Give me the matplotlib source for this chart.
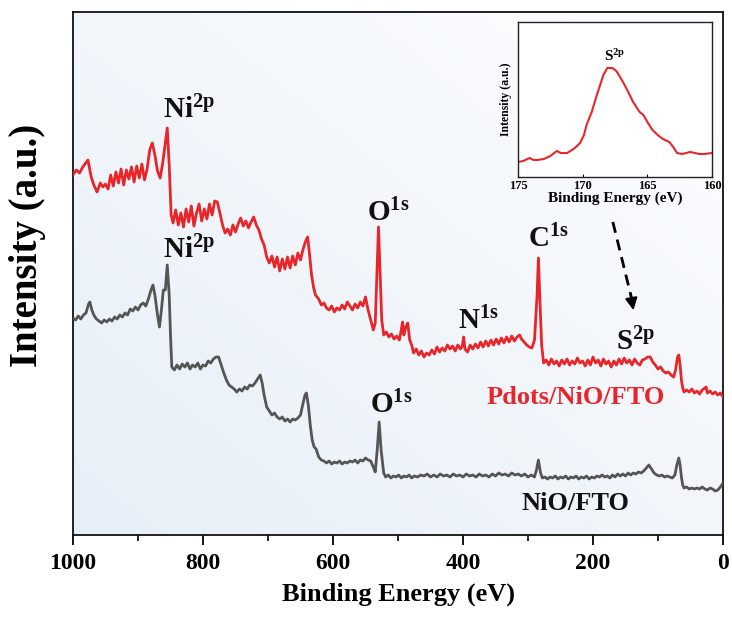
import numpy as np
import matplotlib
matplotlib.use("Agg")
import matplotlib.pyplot as plt
from matplotlib.ticker import MultipleLocator

plt.rcParams['font.family'] = ['Liberation Serif', 'DejaVu Serif']
plt.rcParams['font.weight'] = 'bold'
plt.rcParams['mathtext.fontset'] = 'custom'
plt.rcParams['mathtext.rm'] = 'Liberation Serif:bold'
plt.rcParams['mathtext.bf'] = 'Liberation Serif:bold'
plt.rcParams['mathtext.it'] = 'Liberation Serif:bold:italic'

# ---------------- data ----------------
red_energy = [1000, 995, 990, 985, 977, 972, 968, 963, 958, 954, 950, 946, 942, 938, 934, 930, 926, 922, 918, 914,
              910, 906, 902, 898, 894, 890, 886, 882, 878, 874, 870, 866, 862, 858, 855, 852, 849, 846, 842, 838,
              834, 830, 826, 822, 818, 814, 810, 806, 802, 798, 794, 790, 786, 782, 778, 774, 770, 766, 762, 758,
              754, 750, 746, 742, 738, 734, 730, 726, 722, 718, 714, 710, 706, 702, 698, 694, 690, 686, 682, 678,
              674, 670, 666, 662, 658, 654, 650, 646, 642, 639, 636, 633, 630, 627, 622, 618, 614, 610, 606, 602,
              598, 594, 590, 586, 582, 578, 574, 570, 566, 562, 558, 554, 550, 546, 542, 538, 535, 532, 530, 528,
              525, 522, 518, 514, 510, 506, 502, 498, 495, 493, 491, 488, 485, 482, 479, 476, 472, 468, 464, 460,
              456, 452, 448, 444, 440, 436, 432, 428, 424, 420, 416, 412, 408, 404, 401, 399, 397, 393, 389, 385,
              381, 377, 373, 369, 365, 361, 357, 353, 349, 345, 341, 337, 333, 329, 325, 321, 317, 313, 310, 306,
              302, 298, 294, 290, 286, 284, 282, 279, 276, 272, 268, 264, 260, 256, 252, 248, 244, 240, 236, 232,
              228, 224, 220, 216, 212, 208, 204, 200, 196, 192, 188, 184, 180, 176, 172, 168, 164, 160, 156, 152,
              148, 144, 140, 136, 132, 128, 124, 120, 116, 112, 108, 104, 100, 96, 92, 88, 84, 80, 76, 73,
              70, 68, 66, 64, 62, 60, 56, 52, 48, 44, 40, 36, 32, 28, 26, 24, 20, 16, 12, 8,
              4, 0]
red_intensity = [360, 365, 362, 368, 375, 358, 350, 343, 352, 348, 351, 346, 360, 349, 363, 352, 366, 350, 365, 356,
                 368, 353, 369, 357, 371, 355, 366, 385, 392, 380, 364, 357, 372, 392, 407, 370, 320, 312, 325, 310,
                 322, 308, 326, 313, 329, 309, 322, 331, 314, 326, 316, 331, 320, 334, 333, 322, 310, 302, 306, 300,
                 310, 303, 311, 317, 309, 314, 307, 313, 318, 310, 305, 296, 290, 278, 272, 279, 268, 278, 264, 276,
                 266, 278, 267, 279, 270, 282, 275, 286, 294, 298, 280, 260, 248, 240, 236, 230, 232, 227, 225, 229,
                 223, 227, 225, 230, 226, 233, 229, 225, 231, 227, 233, 229, 238, 225, 215, 205, 212, 270, 308, 270,
                 215, 200, 203, 198, 201, 196, 199, 195, 205, 213, 200, 208, 212, 195, 190, 182, 186, 180, 184, 178,
                 182, 180, 185, 181, 188, 183, 187, 184, 190, 186, 189, 184, 190, 186, 189, 198, 186, 183, 190, 186,
                 191, 187, 193, 188, 194, 189, 195, 190, 196, 191, 197, 192, 198, 193, 199, 194, 198, 200, 196, 193,
                 190, 188, 187, 195, 240, 277, 240, 190, 172, 175, 170, 176, 171, 174, 169, 175, 171, 176, 170, 174,
                 171, 177, 172, 174, 169, 175, 170, 178, 172, 175, 169, 176, 171, 174, 168, 174, 170, 176, 171, 177,
                 172, 175, 170, 176, 172, 170, 175, 176, 178, 178, 173, 170, 166, 168, 164, 162, 163, 160, 158, 165,
                 178, 180, 170, 155, 147, 143, 145, 143, 146, 142, 144, 141, 145, 147, 148, 142, 144, 141, 143, 140,
                 142, 138]

gray_energy = [1000, 996, 992, 988, 984, 980, 976, 974, 971, 968, 964, 960, 956, 952, 948, 944, 940, 936, 932, 928,
               924, 920, 916, 912, 908, 904, 900, 896, 892, 888, 884, 880, 877, 874, 870, 867, 864, 861, 858, 855,
               852, 850, 848, 844, 840, 836, 832, 828, 824, 820, 816, 812, 808, 804, 800, 796, 792, 788, 784, 780,
               776, 772, 768, 764, 760, 756, 752, 748, 744, 740, 736, 732, 728, 724, 720, 716, 712, 709, 706, 702,
               698, 694, 690, 686, 682, 678, 674, 670, 666, 662, 658, 654, 650, 646, 643, 641, 638, 635, 632, 629,
               626, 622, 618, 614, 610, 606, 602, 598, 594, 590, 586, 582, 578, 574, 570, 566, 562, 558, 554, 550,
               546, 542, 538, 535, 532, 529, 526, 522, 519, 515, 511, 507, 503, 499, 495, 491, 487, 483, 479, 475,
               470, 465, 460, 455, 450, 445, 440, 435, 430, 425, 420, 415, 410, 405, 400, 395, 390, 385, 380, 375,
               370, 365, 360, 355, 350, 345, 340, 335, 330, 325, 320, 315, 310, 305, 300, 295, 290, 287, 284, 281,
               278, 274, 270, 266, 262, 258, 254, 250, 246, 242, 238, 234, 230, 226, 222, 218, 214, 210, 206, 202,
               198, 194, 190, 186, 182, 178, 174, 170, 166, 162, 158, 154, 150, 146, 142, 138, 134, 130, 126, 122,
               118, 114, 110, 106, 102, 98, 94, 90, 86, 82, 78, 74, 71, 68, 66, 64, 62, 60, 56, 52,
               48, 44, 40, 36, 32, 28, 24, 20, 16, 12, 8, 4, 0]
gray_intensity = [217, 215, 219, 216, 220, 222, 231, 233, 225, 220, 216, 214, 212, 215, 213, 216, 214, 218, 216, 220,
                  218, 222, 220, 226, 224, 228, 225, 230, 232, 229, 236, 245, 250, 240, 220, 208, 225, 245, 245, 270,
                  240, 200, 168, 165, 170, 166, 171, 168, 172, 166, 170, 168, 172, 166, 170, 169, 174, 172, 176, 178,
                  178, 170, 162, 155, 150, 148, 146, 143, 146, 144, 148, 146, 150, 149, 152, 156, 160, 152, 140, 128,
                  124, 120, 122, 118, 116, 118, 114, 116, 113, 116, 115, 117, 120, 132, 140, 142, 130, 110, 95, 88,
                  86, 78, 75, 74, 72, 74, 71, 73, 72, 74, 71, 73, 72, 74, 73, 75, 72, 75, 74, 77,
                  75, 74, 68, 63, 85, 113, 85, 62, 58, 60, 57, 59, 58, 60, 57, 59, 58, 60, 57, 59,
                  58, 60, 59, 61, 58, 60, 58, 61, 59, 60, 58, 61, 59, 60, 58, 61, 59, 60, 58, 61,
                  59, 60, 58, 61, 59, 62, 60, 61, 59, 62, 60, 61, 59, 61, 58, 60, 58, 65, 75, 63,
                  57, 58, 56, 58, 57, 59, 56, 58, 57, 59, 56, 58, 57, 59, 56, 58, 57, 59, 56, 58,
                  57, 59, 58, 60, 58, 59, 57, 60, 58, 61, 59, 61, 59, 62, 60, 62, 61, 63, 62, 64,
                  67, 70, 66, 62, 60, 59, 60, 58, 59, 58, 57, 60, 70, 77, 70, 58, 50, 47, 48, 46,
                  47, 46, 47, 46, 48, 46, 45, 47, 46, 44, 45, 48, 52]

inset_energy = [175.0, 174.6, 174.1, 173.8, 173.5, 173.0, 172.5, 172.0, 171.7, 171.2, 170.7, 170.2, 169.9, 169.7,
                169.3, 169.0, 168.7, 168.4, 168.1, 167.7, 167.4, 167.2, 166.8, 166.4, 166.1, 165.6, 165.3, 165.0,
                164.6, 164.2, 163.8, 163.3, 163.0, 162.7, 162.3, 162.0, 161.7, 161.3, 161.0, 160.6, 160.0]
inset_intensity = [15, 16, 19, 17, 17, 18, 21, 26, 24, 24, 28, 34, 42, 52,
                   65, 78, 90, 102, 109, 109, 106, 102, 93, 83, 75, 65, 62, 55,
                   47, 42, 38, 35, 30, 24, 23, 24, 25, 24, 23, 23, 24]

main_xticks = [1000, 800, 600, 400, 200, 0]
inset_xticks = [175, 170, 165, 160]

peak_labels = [r'$\mathrm{Ni}^{\mathrm{2p}}$', r'$\mathrm{Ni}^{\mathrm{2p}}$', r'$\mathrm{O}^{\mathrm{1s}}$',
               r'$\mathrm{O}^{\mathrm{1s}}$', r'$\mathrm{N}^{\mathrm{1s}}$', r'$\mathrm{C}^{\mathrm{1s}}$',
               r'$\mathrm{S}^{\mathrm{2p}}$']
peak_label_x = [822, 822, 515, 510, 377, 268, 135]
peak_label_y = [425, 285, 322, 130, 214, 296, 193]

RED = '#e8262a'
GRAY = '#555555'

# ---------------- figure ----------------
fig = plt.figure(figsize=(7.32, 6.30), dpi=100)
ax = fig.add_axes([73/732, 1 - 535/630, 650/732, 523/630])

# soft blue background gradient
gx, gy = np.meshgrid(np.linspace(0, 1, 200), np.linspace(0, 1, 200))
t = np.clip(0.55 * gx + 0.55 * gy, 0, 1)
c0 = np.array([0.905, 0.937, 0.972])
c1 = np.array([0.985, 0.990, 0.997])
img = c0[None, None, :] * (1 - t[..., None]) + c1[None, None, :] * t[..., None]
ax.imshow(img, extent=[0, 1, 0, 1], transform=ax.transAxes, origin='lower',
          aspect='auto', zorder=0, interpolation='bilinear')

ax.plot(red_energy, red_intensity, color=RED, lw=2.0, zorder=3, solid_joinstyle='round')
ax.plot(gray_energy, gray_intensity, color=GRAY, lw=2.0, zorder=3, solid_joinstyle='round')

ax.set_xlim(1000, 0)
ax.set_ylim(0, 523)
ax.set_xticks(main_xticks)
ax.xaxis.set_minor_locator(MultipleLocator(100))
ax.set_yticks([])
ax.tick_params(axis='x', which='major', direction='out', length=7, width=1.3,
               labelsize=17, pad=6)
ax.tick_params(axis='x', which='minor', direction='out', length=4, width=1.2)
for lbl in ax.get_xticklabels():
    lbl.set_fontweight('bold')
for s in ax.spines.values():
    s.set_linewidth(1.3)
    s.set_color('#111111')

ax.set_xlabel('Binding Energy (eV)', fontsize=19, fontweight='bold', labelpad=6)
ax.set_ylabel('Intensity (a.u.)', fontsize=28, fontweight='bold')
ax.yaxis.set_label_coords(-0.041, 0.553)

for lab, x, y in zip(peak_labels, peak_label_x, peak_label_y):
    ax.text(x, y, lab, fontsize=21, ha='center', va='center', color='#111111', zorder=4)

ax.text(227, 137, 'Pdots/NiO/FTO', fontsize=19, fontweight='bold', color=RED,
        ha='center', va='center', zorder=4)
ax.text(227, 32, 'NiO/FTO', fontsize=19, fontweight='bold', color='#111111',
        ha='center', va='center', zorder=4)

# dashed arrow from inset to S2p region
ax.plot([169.5, 140], [313, 235], color='black', lw=2.0, ls=(0, (4, 2.5)), zorder=4)
ax.annotate('', xy=(137, 222), xytext=(143, 244),
            arrowprops=dict(arrowstyle='-|>', color='black', lw=1.5, mutation_scale=18),
            zorder=4)

# ---------------- inset ----------------
axin = fig.add_axes([518/732, 1 - 177/630, 194/732, 155/630])
axin.set_facecolor('white')
axin.plot(inset_energy, inset_intensity, color=RED, lw=1.5)
axin.set_xlim(175, 160)
axin.set_ylim(0, 155)
axin.set_xticks(inset_xticks)
axin.set_yticks([])
axin.tick_params(axis='x', direction='in', length=2, width=0.8, labelsize=9, pad=2)
for lbl in axin.get_xticklabels():
    lbl.set_fontweight('bold')
for s in axin.spines.values():
    s.set_linewidth(1.0)
    s.set_color('#222222')
axin.set_xlabel('Binding Energy (eV)', fontsize=11, fontweight='bold', labelpad=0)
axin.set_ylabel('Intensity (a.u.)', fontsize=8.5, fontweight='bold', labelpad=4)
axin.text(167.5, 121, r'$\mathrm{S}^{\mathrm{2p}}$', fontsize=11, ha='center', va='center')

fig.savefig('out.png', dpi=100)
